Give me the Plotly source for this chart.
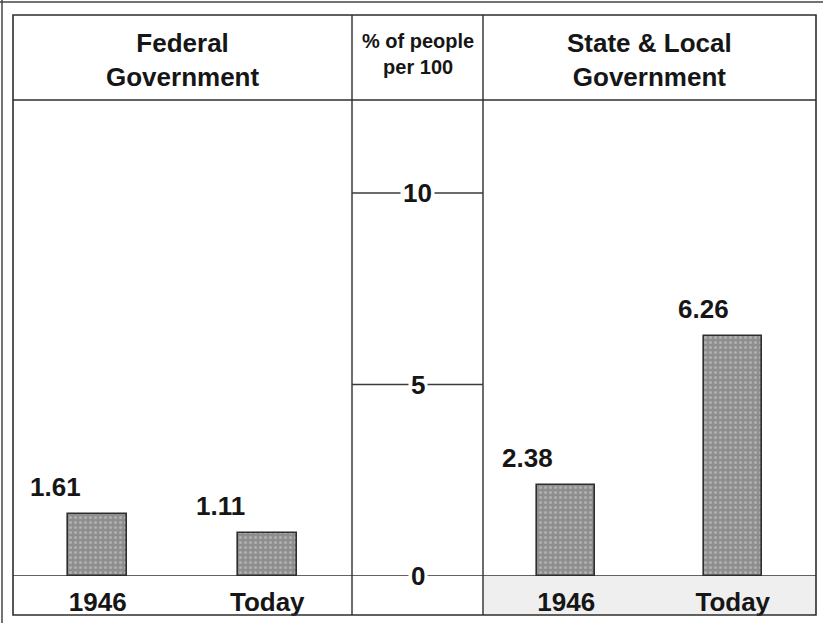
import plotly.graph_objects as go

# ---- data ----
categories = ["1946", "Today"]
federal_values = [1.61, 1.11]
state_local_values = [2.38, 6.26]
axis_ticks = [0, 5, 10]
panel_titles = ["Federal<br>Government", "% of people<br>per 100", "State &amp; Local<br>Government"]

# ---- layout constants (paper fractions) ----
W, H = 823, 623
ML, MR, MT, MB = 13, 7, 15, 8
PW, PH = W - ML - MR, H - MT - MB
def px(x):
    return (x - ML) / PW
def py(y):
    return (H - MB - y) / PH

div1, div2 = px(352), px(483)
base_y, head_y = py(576), py(100)
y_top = 12.43

FONT = "Liberation Sans, Arial, sans-serif"
LINE = "#2e2e2e"
BAR = "#8e8e8e"
TXT = "#161616"

fig = go.Figure()
bar_style = dict(
    color=BAR,
    line=dict(color="#2e2e2e", width=1.6),
    pattern=dict(shape=".", fgcolor="#cfcfcf", bgcolor=BAR, size=5, solidity=0.3),
)
fig.add_trace(go.Bar(x=categories, y=federal_values, xaxis="x", yaxis="y",
                     width=0.35, marker=bar_style, showlegend=False, hoverinfo="skip"))
fig.add_trace(go.Bar(x=categories, y=state_local_values, xaxis="x2", yaxis="y",
                     width=0.35, marker=bar_style, showlegend=False, hoverinfo="skip"))

cat_axis = dict(type="category", range=[-0.5, 1.5], showgrid=False, zeroline=False,
                showline=False, ticks="", ticklabelstandoff=8,
                tickfont=dict(family=FONT, size=26, color=TXT, weight="bold"))
fig.update_layout(
    width=W, height=H,
    margin=dict(l=ML, r=MR, t=MT, b=MB),
    paper_bgcolor="white", plot_bgcolor="rgba(0,0,0,0)",
    xaxis=dict(domain=[0, div1], anchor="y", **cat_axis),
    xaxis2=dict(domain=[div2, 1], anchor="y", **cat_axis),
    yaxis=dict(domain=[base_y, head_y], range=[0, y_top], showgrid=False, zeroline=False,
               showticklabels=False, showline=False, ticks=""),
    bargap=0,
)

shapes = []
# right bottom row light fill
shapes.append(dict(type="rect", xref="paper", yref="paper", x0=div2, x1=1, y0=0, y1=base_y,
                   fillcolor="#efefef", line=dict(width=0), layer="below"))
# outer scan border
shapes.append(dict(type="line", xref="paper", yref="paper", x0=px(0), x1=px(823), y0=py(2), y1=py(2),
                   line=dict(color="#444", width=1.5)))
shapes.append(dict(type="line", xref="paper", yref="paper", x0=px(2), x1=px(2), y0=py(0), y1=py(623),
                   line=dict(color="#444", width=1.5)))
# frame
shapes.append(dict(type="rect", xref="paper", yref="paper", x0=0, x1=1, y0=0, y1=1,
                   line=dict(color=LINE, width=1.6)))
# header line
shapes.append(dict(type="line", xref="paper", yref="paper", x0=0, x1=1, y0=head_y, y1=head_y,
                   line=dict(color=LINE, width=1.6)))
# dividers
for d in (div1, div2):
    shapes.append(dict(type="line", xref="paper", yref="paper", x0=d, x1=d, y0=0, y1=1,
                       line=dict(color=LINE, width=1.4)))
# baseline across the frame (value 0)
shapes.append(dict(type="line", xref="paper", yref="y", x0=0, x1=1, y0=0, y1=0,
                   line=dict(color=LINE, width=1.6)))
# middle scale tick lines
for t in axis_ticks[1:]:
    shapes.append(dict(type="line", xref="paper", yref="y", x0=div1, x1=div2, y0=t, y1=t,
                       line=dict(color="#3a3a3a", width=1.4)))

annotations = []
mid = (div1 + div2) / 2
for t in axis_ticks:
    annotations.append(dict(xref="paper", yref="y", x=mid, y=t, text=str(t), showarrow=False,
                            xanchor="center", yanchor="middle", bgcolor="white", borderpad=2,
                            font=dict(family=FONT, size=26, color=TXT, weight="bold")))
# headers
head_font = dict(family=FONT, size=26, color=TXT, weight="bold")
annotations.append(dict(xref="paper", yref="paper", x=div1 / 2, y=py(60), text=panel_titles[0],
                        xanchor="center", yanchor="middle", showarrow=False, font=head_font))
annotations.append(dict(xref="paper", yref="paper", x=mid, y=py(54), text=panel_titles[1],
                        xanchor="center", yanchor="middle", showarrow=False,
                        font=dict(family=FONT, size=20, color=TXT, weight="bold")))
annotations.append(dict(xref="paper", yref="paper", x=(div2 + 1) / 2, y=py(60), text=panel_titles[2],
                        xanchor="center", yanchor="middle", showarrow=False, font=head_font))
# value labels
val_font = dict(family=FONT, size=26, color=TXT, weight="bold")
for axref, vals, shifts in (("x", federal_values, [-42, -47]), ("x2", state_local_values, [-39, -29])):
    for i, (v, s) in enumerate(zip(vals, shifts)):
        annotations.append(dict(xref=axref, yref="y", x=i, y=v, text=f"{v:.2f}", showarrow=False,
                                xanchor="center", yanchor="bottom", yshift=10, xshift=s,
                                font=val_font))

fig.update_layout(shapes=shapes, annotations=annotations)
fig.write_html("out.html", config={"displayModeBar": False},
               post_script="document.body.style.margin='0px';")
